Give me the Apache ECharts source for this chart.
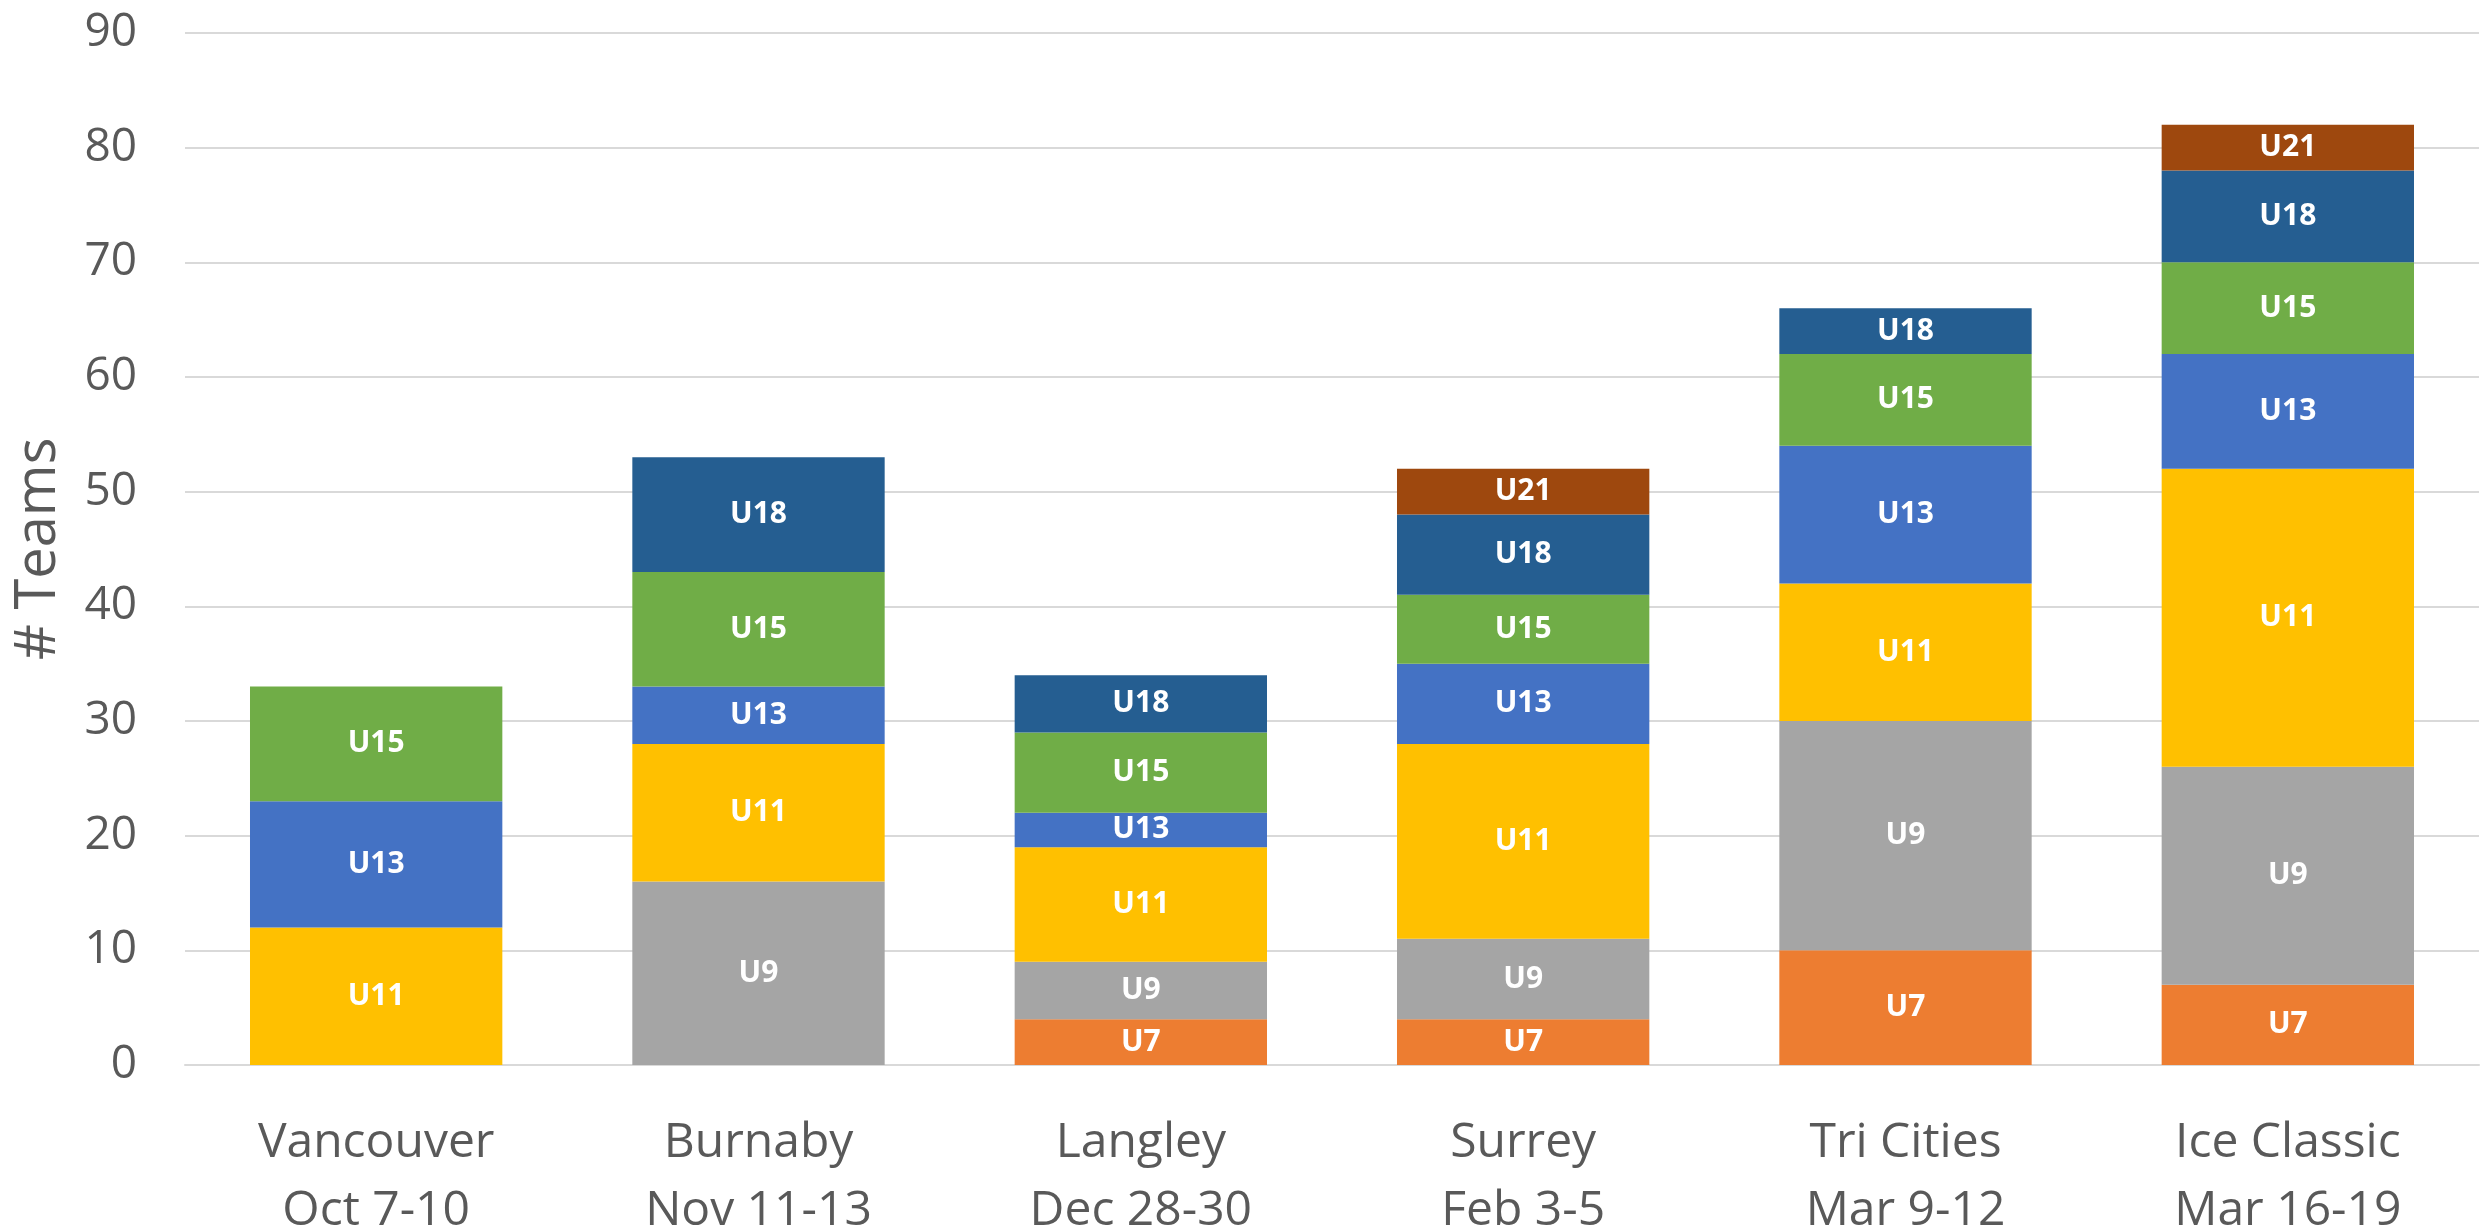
<!DOCTYPE html>
<html>
<head>
<meta charset="utf-8">
<script src="https://cdn.jsdelivr.net/npm/echarts@6/dist/echarts.min.js"></script>
<style>
html,body{margin:0;padding:0;background:#fff;}
#chart{width:2481px;height:1232px;}
</style>
</head>
<body>
<div id="chart"></div>
<script>
const categories = ["Vancouver\nOct 7-10", "Burnaby\nNov 11-13", "Langley\nDec 28-30", "Surrey\nFeb 3-5", "Tri Cities\nMar 9-12", "Ice Classic\nMar 16-19"];
const seriesNames = ["U7", "U9", "U11", "U13", "U15", "U18", "U21"];
const u7  = [null, null, 4, 4, 10, 7];
const u9  = [null, 16, 5, 7, 20, 19];
const u11 = [12, 12, 10, 17, 12, 26];
const u13 = [11, 5, 3, 7, 12, 10];
const u15 = [10, 10, 7, 6, 8, 8];
const u18 = [null, 10, 5, 7, 4, 8];
const u21 = [null, null, null, 4, null, 4];
const yTicks = { min: 0, max: 90, interval: 10 };
const colors = ["#ED7D31", "#A5A5A5", "#FFC000", "#4472C4", "#70AD47", "#255E91", "#9E480E"];

const values = [u7, u9, u11, u13, u15, u18, u21];
const FONT = "Open Sans";

const chart = echarts.init(document.getElementById('chart'), null, {renderer: 'canvas'});
chart.setOption({
  animation: false,
  backgroundColor: '#ffffff',
  grid: { left: 185, right: 2, top: 33, bottom: 167, containLabel: false, outerBoundsMode: 'none' },
  xAxis: {
    type: 'category',
    data: categories,
    axisLine: { show: true, lineStyle: { color: '#D9D9D9', width: 2 } },
    axisTick: { show: false },
    axisLabel: {
      color: '#595959', fontFamily: FONT, fontSize: 48, lineHeight: 68, margin: 44, interval: 0
    }
  },
  yAxis: {
    type: 'value',
    min: yTicks.min, max: yTicks.max, interval: yTicks.interval,
    name: '# Teams',
    nameLocation: 'middle',
    nameGap: 118,
    nameTextStyle: { color: '#595959', fontFamily: FONT, fontSize: 56 },
    axisLine: { show: false },
    axisTick: { show: false },
    axisLabel: { color: '#595959', fontFamily: FONT, fontSize: 46, margin: 48 },
    splitLine: { lineStyle: { color: '#D9D9D9', width: 2 } }
  },
  series: seriesNames.map((name, i) => ({
    name: name,
    type: 'bar',
    stack: 'total',
    barWidth: '66%',
    itemStyle: { color: colors[i] },
    label: {
      show: true, position: 'inside', formatter: '{a}',
      color: '#ffffff', fontFamily: FONT, fontWeight: 'bold', fontSize: 30
    },
    data: values[i]
  }))
});
</script>
</body>
</html>
